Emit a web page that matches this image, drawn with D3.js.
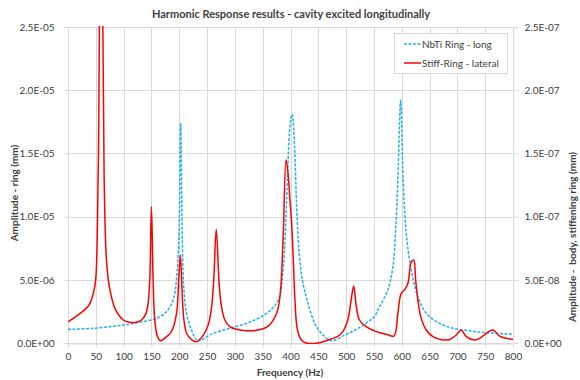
<!DOCTYPE html>
<html>
<head>
<meta charset="utf-8">
<script src="https://cdn.jsdelivr.net/npm/d3@7"></script>
<style>
  body { margin: 0; background: #fff; }
  #chart { width: 580px; height: 380px; }
  text { font-family: Lato, "Liberation Sans", sans-serif; fill: #404040; }
</style>
</head>
<body>
<div id="chart"></div>
<script>
var chartTitle = "Harmonic Response results - cavity excited longitudinally";
var xTicks = [0, 50, 100, 150, 200, 250, 300, 350, 400, 450, 500, 550, 600, 650, 700, 750, 800];
var leftTicks = [0, 5e-6, 1e-5, 1.5e-5, 2e-5, 2.5e-5];
var rightTicks = [0, 5e-8, 1e-7, 1.5e-7, 2e-7, 2.5e-7];

// NbTi Ring - long (left axis)
var nbtiFreq = [0, 45, 99, 135, 159, 177, 189, 195, 199.4, 202.4, 205, 208, 213, 222, 233, 261, 321, 357, 378, 387, 393, 399, 403, 407.5, 410.6, 413.6, 416.6, 422.5, 431.5, 443.5, 455.6, 473.5, 497.5, 521.5, 542, 551, 560, 575, 584, 589, 593, 598, 602.5, 608, 617, 629, 644, 668, 692, 722, 752, 800];
var nbtiAmp = [1.08e-6, 1.16e-6, 1.42e-6, 1.69e-6, 1.95e-6, 2.48e-6, 3.4e-6, 5.0e-6, 8.4e-6, 1.74e-5, 9.7e-6, 4.5e-6, 2.37e-6, 1.03e-6, 1.8e-7, 7.7e-7, 1.56e-6, 2.35e-6, 3.4e-6, 6.0e-6, 1.13e-5, 1.71e-5, 1.81e-5, 1.53e-5, 1.13e-5, 8.4e-6, 6.6e-6, 4.7e-6, 3.14e-6, 1.56e-6, 7.7e-7, 1.8e-7, 6.3e-7, 1.16e-6, 1.75e-6, 2.08e-6, 2.87e-6, 4.2e-6, 6.0e-6, 8.9e-6, 1.29e-5, 1.92e-5, 1.29e-5, 8.7e-6, 5.8e-6, 3.66e-6, 2.35e-6, 1.56e-6, 1.16e-6, 9.7e-7, 8.1e-7, 7.0e-7];

// Stiff-Ring - lateral (right axis)
var stiffFreq = [0, 36.5, 45.5, 49.7, 52.6, 55, 56.5, 59.5, 62.5, 65, 69.5, 75.4, 84.4, 99.4, 111, 123, 132, 140, 144, 147, 150, 153, 156, 161, 166.5, 177, 186, 195, 199, 202, 206, 208.5, 213, 222, 231, 243, 252, 258, 262, 266.5, 271.7, 276, 282, 291, 303, 321, 339, 360, 375, 381, 386.6, 392, 395.6, 399, 402, 405, 408, 412.5, 419.6, 428.6, 449.5, 467.5, 485.5, 494, 503, 509, 513.6, 518.4, 524, 536, 554, 572, 586, 593, 599, 605, 611, 617, 621.5, 625, 629, 635, 644, 656, 674, 686, 698, 707, 716, 731, 740, 752, 764, 776, 788, 800];
var stiffAmp = [1.68e-8, 2.93e-8, 3.93e-8, 4.98e-8, 8.4e-8, 1.6e-7, 2.6e-7, 5.0e-7, 2.6e-7, 1.3e-7, 6.3e-8, 4.2e-8, 2.74e-8, 1.82e-8, 1.64e-8, 1.64e-8, 1.82e-8, 2.3e-8, 3.14e-8, 5.0e-8, 1.08e-7, 5.0e-8, 1.82e-8, 5.0e-9, 1.8e-9, 5.0e-9, 9.0e-9, 2.3e-8, 5.0e-8, 6.96e-8, 3.2e-8, 1.8e-8, 7.9e-9, 2.6e-9, 1.0e-9, 6.0e-9, 1.42e-8, 2.8e-8, 5.0e-8, 9.0e-8, 4.7e-8, 2.87e-8, 1.82e-8, 1.29e-8, 1.08e-8, 9.7e-9, 1.0e-8, 1.34e-8, 2.35e-8, 3.66e-8, 8.1e-8, 1.45e-7, 1.34e-7, 1.13e-7, 9.5e-8, 6.6e-8, 3.4e-8, 1.03e-8, 2.4e-9, 0, 0, 2.4e-9, 5.5e-9, 9.0e-9, 1.82e-8, 3.4e-8, 4.5e-8, 2.87e-8, 1.82e-8, 1.29e-8, 9.0e-9, 7.0e-9, 5.5e-9, 2.35e-8, 3.93e-8, 4.2e-8, 4.7e-8, 6.4e-8, 6.57e-8, 5.0e-8, 3.4e-8, 1.95e-8, 1.03e-8, 5.0e-9, 2.4e-9, 2.8e-9, 6.3e-9, 1.03e-8, 5.0e-9, 2.4e-9, 3.7e-9, 7.7e-9, 1.03e-8, 5.5e-9, 3.7e-9, 2.9e-9];

var seriesNames = ["NbTi Ring - long", "Stiff-Ring - lateral"];

function sciFmt(v) {
    if (v === 0) return "0.0E+00";
    var s = v.toExponential(1).split("e");
    var e = parseInt(s[1], 10);
    var sign = e < 0 ? "-" : "+";
    var a = Math.abs(e);
    return s[0] + "E" + sign + (a < 10 ? "0" + a : a);
}

var width = 580, height = 380;
var plotLeft = 68, plotRight = 513, plotTop = 27, plotBottom = 343;

var svg = d3.select("#chart").append("svg")
    .attr("width", width)
    .attr("height", height);

var x = d3.scaleLinear().domain([0, 800]).range([plotLeft, plotRight]);
var yL = d3.scaleLinear().domain([0, 2.5e-5]).range([plotBottom, plotTop]);
var yR = d3.scaleLinear().domain([0, 2.5e-7]).range([plotBottom, plotTop]);

// gridlines
svg.append("g").selectAll("line").data(leftTicks).enter().append("line")
    .attr("x1", plotLeft).attr("x2", plotRight)
    .attr("y1", function(d) { return Math.round(yL(d)) + 0.5; })
    .attr("y2", function(d) { return Math.round(yL(d)) + 0.5; })
    .attr("stroke", "#d9d9d9");
svg.append("g").selectAll("line").data(xTicks).enter().append("line")
    .attr("y1", plotTop).attr("y2", plotBottom)
    .attr("x1", function(d) { return Math.round(x(d)) + 0.5; })
    .attr("x2", function(d) { return Math.round(x(d)) + 0.5; })
    .attr("stroke", "#d9d9d9");

// axes
var xAxis = svg.append("g")
    .attr("transform", "translate(0," + (plotBottom + 0.5) + ")")
    .call(d3.axisBottom(x).tickValues(xTicks).tickSize(4).tickPadding(5));
var lAxis = svg.append("g")
    .attr("transform", "translate(" + (plotLeft + 0.5) + ",0)")
    .call(d3.axisLeft(yL).tickValues(leftTicks).tickFormat(sciFmt).tickSize(5).tickPadding(9));
var rAxis = svg.append("g")
    .attr("transform", "translate(" + (plotRight + 0.5) + ",0)")
    .call(d3.axisRight(yR).tickValues(rightTicks).tickFormat(sciFmt).tickSize(5).tickPadding(6));

[xAxis, lAxis, rAxis].forEach(function(g) {
    g.select(".domain").attr("stroke", "#d9d9d9");
    g.selectAll(".tick line").attr("stroke", "#d9d9d9");
    g.selectAll(".tick text").attr("font-size", 10).attr("fill", "#404040")
        .style("font-family", "Lato, 'Liberation Sans', sans-serif");
});
lAxis.select(".domain").remove();
rAxis.select(".domain").remove();

svg.append("clipPath").attr("id", "plot")
    .append("rect").attr("x", plotLeft).attr("y", plotTop - 1)
    .attr("width", plotRight - plotLeft).attr("height", plotBottom - plotTop + 2);

var nbtiData = nbtiFreq.map(function(f, i) { return { x: f, y: nbtiAmp[i] }; });
var stiffData = stiffFreq.map(function(f, i) { return { x: f, y: stiffAmp[i] }; });

var lineL = d3.line()
    .x(function(d) { return x(d.x); })
    .y(function(d) { return yL(d.y); })
    .curve(d3.curveCatmullRom.alpha(0.5));
var lineR = d3.line()
    .x(function(d) { return x(d.x); })
    .y(function(d) { return yR(d.y); })
    .curve(d3.curveCatmullRom.alpha(0.5));

var plot = svg.append("g").attr("clip-path", "url(#plot)");
plot.append("path").datum(nbtiData)
    .attr("d", lineL)
    .attr("fill", "none")
    .attr("stroke", "#1fb4ec")
    .attr("stroke-width", 1.5)
    .attr("stroke-linejoin", "round")
    .attr("stroke-dasharray", "3,1.5");
plot.append("path").datum(stiffData)
    .attr("d", lineR)
    .attr("fill", "none")
    .attr("stroke", "#ff0000")
    .attr("stroke-linejoin", "round")
    .attr("stroke-width", 1.5);

// titles
svg.append("text")
    .attr("x", 291).attr("y", 18)
    .attr("text-anchor", "middle")
    .attr("font-size", 11).attr("font-weight", "bold")
    .text(chartTitle);
svg.append("text")
    .attr("x", 290).attr("y", 376)
    .attr("text-anchor", "middle")
    .attr("font-size", 10).attr("font-weight", "bold")
    .text("Frequency (Hz)");
svg.append("text")
    .attr("transform", "translate(18,193) rotate(-90)")
    .attr("text-anchor", "middle")
    .attr("font-size", 10).attr("font-weight", "bold")
    .text("Amplitude - ring (mm)");
svg.append("text")
    .attr("transform", "translate(576,237) rotate(-90)")
    .attr("text-anchor", "middle")
    .attr("font-size", 10).attr("font-weight", "bold")
    .style("white-space", "pre")
    .text("Amplitude -  body, stiffening ring (mm)");

// legend
var lg = svg.append("g");
lg.append("rect")
    .attr("x", 394.5).attr("y", 33.5)
    .attr("width", 113).attr("height", 40)
    .attr("fill", "#fff").attr("stroke", "#d9d9d9");
var legendItems = [
    { name: seriesNames[0], color: "#1fb4ec", dash: "3,1.5" },
    { name: seriesNames[1], color: "#ff0000", dash: null }
];
legendItems.forEach(function(d, i) {
    var ly = 44 + i * 19;
    lg.append("line")
        .attr("x1", 404).attr("x2", 421)
        .attr("y1", ly).attr("y2", ly)
        .attr("stroke", d.color).attr("stroke-width", 1.5)
        .attr("stroke-dasharray", d.dash);
    lg.append("text")
        .attr("x", 422).attr("y", ly + 3.5)
        .attr("font-size", 10)
        .text(d.name);
});
</script>
</body>
</html>
